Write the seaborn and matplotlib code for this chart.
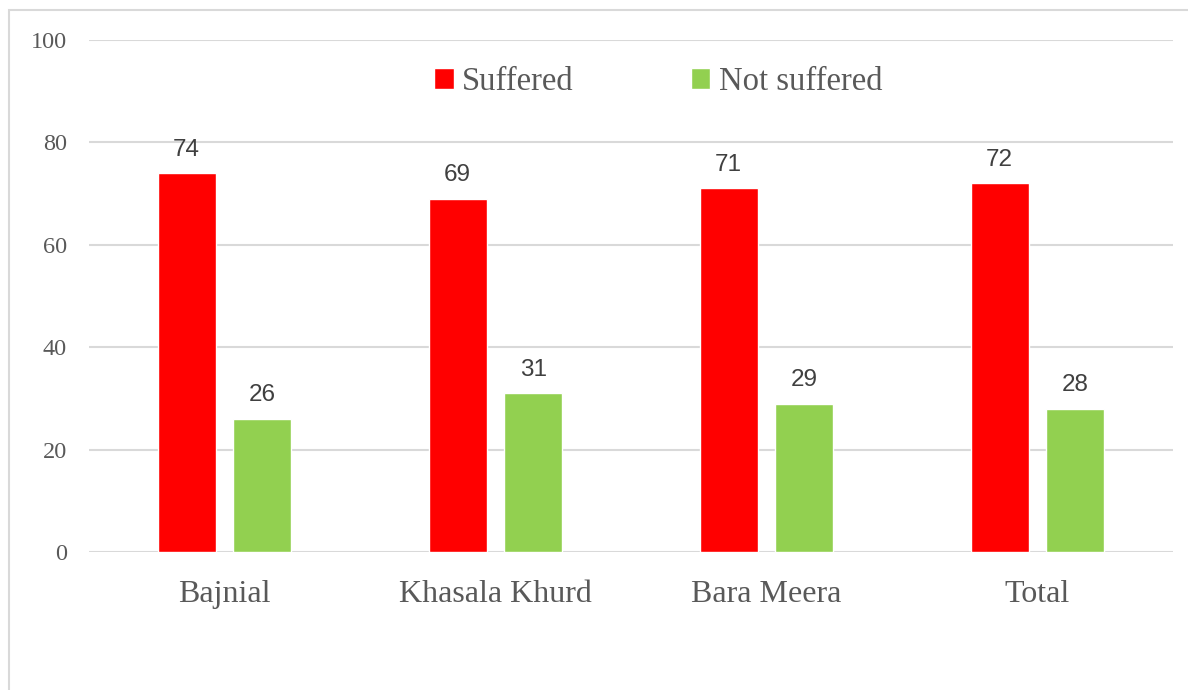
import matplotlib
matplotlib.use("Agg")
import matplotlib.pyplot as plt
import seaborn as sns
import pandas as pd
from matplotlib.patches import Rectangle

categories = ["Bajnial", "Khasala Khurd", "Bara Meera", "Total"]
suffered = [74, 69, 71, 72]
not_suffered = [26, 31, 29, 28]
series_names = ["Suffered", "Not suffered"]
colors = ["#FF0000", "#92D050"]
y_ticks = [0, 20, 40, 60, 80, 100]

df = pd.DataFrame({
    "Village": categories * 2,
    "Status": [series_names[0]] * len(categories) + [series_names[1]] * len(categories),
    "Value": suffered + not_suffered,
})

sns.set_theme(style="white")
plt.rcParams["font.family"] = ["Liberation Serif", "DejaVu Serif"]

fig = plt.figure(figsize=(11.88, 6.90), dpi=100)
ax = fig.add_axes([89 / 1188, 1 - 552 / 690, (1173 - 89) / 1188, (552 - 40) / 690])

sns.barplot(data=df, x="Village", y="Value", hue="Status", hue_order=series_names,
            palette=colors, order=categories, width=0.56, gap=0.236,
            saturation=1, ax=ax, legend=True)

ax.set_xlim(-0.5, 3.5)
ax.set_ylim(0, 100)
ax.set_yticks(y_ticks)
ax.set_xlabel("")
ax.set_ylabel("")
for s in ax.spines.values():
    s.set_visible(False)
ax.grid(axis="y", color="#d9d9d9", linewidth=1.5)
ax.set_axisbelow(True)
ax.tick_params(axis="y", length=0, pad=16, labelsize=17.5, labelcolor="#595959")
ax.tick_params(axis="x", length=0, pad=20, labelsize=23, labelcolor="#595959")

for cont in ax.containers:
    ax.bar_label(cont, fmt="%d", padding=9, fontsize=17.5, color="#404040",
                 family=["Liberation Sans", "DejaVu Sans"])

handles, labels = ax.get_legend_handles_labels()
ax.get_legend().remove()
fig.legend(handles, labels, loc="center", bbox_to_anchor=(658 / 1188, 1 - 82 / 690),
           ncol=2, frameon=False, fontsize=23.5, labelcolor="#595959",
           handlelength=0.6, handleheight=0.6, handletextpad=0.25, columnspacing=3.6)

# outer chart frame
fig.add_artist(Rectangle((9 / 1188, -0.05), 1.2, 1 - 10 / 690 + 0.05,
                         transform=fig.transFigure, fill=False,
                         edgecolor="#d9d9d9", linewidth=1.5))

fig.savefig("out.png", dpi=100, facecolor="white")
